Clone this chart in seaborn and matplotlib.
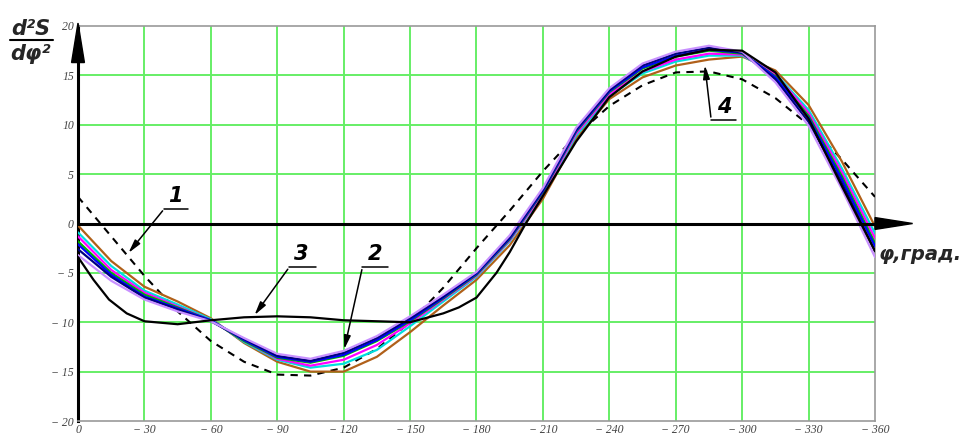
import numpy as np
import pandas as pd
import matplotlib
matplotlib.use('Agg')
import matplotlib.pyplot as plt
from matplotlib.patches import Polygon
from matplotlib.lines import Line2D
import seaborn as sns

# углы, град.
phi = [0, 15, 30, 45, 60, 75, 90, 105, 120, 135, 150, 165, 180,
       195, 210, 225, 240, 255, 270, 285, 300, 315, 330, 345, 360]

# 1 - теоретическая кривая (штриховая)
curve1 = [2.7, -1.3, -5.3, -8.9, -11.9, -14.0, -15.3, -15.4, -14.6, -12.7, -10.0, -6.5, -2.5,
          1.3, 5.3, 8.9, 11.9, 14.0, 15.3, 15.4, 14.6, 12.7, 10.0, 6.5, 2.7]

# 2 - пучок экспериментальных кривых
brown = [-0.2, -3.8, -6.4, -7.9, -9.6, -12.1, -14.0, -15.0, -15.0, -13.5, -11.0, -8.3, -5.7,
         -2.2, 2.5, 8.6, 12.6, 14.8, 16.0, 16.6, 16.9, 15.5, 12.0, 6.3, -0.3]
cyan = [-0.9, -4.3, -6.8, -8.2, -9.7, -12.0, -13.8, -14.6, -14.2, -12.8, -10.4, -7.9, -5.4,
        -1.8, 2.9, 8.9, 12.9, 15.2, 16.4, 17.0, 17.0, 15.2, 11.5, 5.6, -1.0]
magenta = [-1.3, -4.7, -7.0, -8.4, -9.8, -11.9, -13.7, -14.4, -13.8, -12.3, -10.1, -7.7, -5.3,
           -1.7, 3.0, 9.1, 13.1, 15.4, 16.6, 17.2, 17.1, 15.1, 11.2, 5.2, -1.5]
green = [-1.8, -5.0, -7.2, -8.5, -9.8, -11.9, -13.6, -14.1, -13.4, -11.9, -9.9, -7.6, -5.2,
         -1.6, 3.2, 9.3, 13.3, 15.7, 16.9, 17.5, 17.2, 14.9, 10.9, 4.8, -2.0]
blue = [-2.1, -5.2, -7.4, -8.6, -9.8, -11.8, -13.5, -14.0, -13.3, -11.8, -9.8, -7.5, -5.1,
        -1.5, 3.3, 9.4, 13.4, 15.8, 17.0, 17.6, 17.3, 14.8, 10.7, 4.5, -2.3]
navy = [-2.6, -5.4, -7.5, -8.7, -9.9, -11.7, -13.4, -13.9, -13.1, -11.6, -9.6, -7.4, -5.0,
        -1.4, 3.4, 9.5, 13.5, 16.0, 17.2, 17.8, 17.3, 14.6, 10.3, 4.1, -2.8]
violet = [-3.2, -5.8, -7.7, -8.9, -9.9, -11.6, -13.2, -13.7, -12.9, -11.4, -9.4, -7.2, -4.9,
          -1.2, 3.6, 9.7, 13.7, 16.2, 17.4, 18.0, 17.4, 14.3, 9.9, 3.5, -3.4]

# 3 - кривая с отдельной сеткой углов
phi3 = [0, 7, 14, 22, 30, 45, 60, 75, 90, 105, 120, 135, 150, 165, 172, 180, 189,
        195, 202, 210, 225, 240, 255, 270, 285, 300, 315, 330, 345, 360]
curve3 = [-3.4, -5.7, -7.7, -9.1, -9.9, -10.2, -9.8, -9.5, -9.4, -9.5, -9.8, -9.9, -10.0, -9.1, -8.5,
          -7.5, -5.0, -2.9, -0.1, 2.8, 8.3, 12.8, 15.4, 16.9, 17.6, 17.5, 15.3, 10.6, 3.8, -2.8]

bundle = {'#b0601a': brown, '#00dede': cyan, '#ff00ff': magenta, '#00b000': green,
          '#0000ff': blue, '#000080': navy, '#c890ff': violet}

xticks = list(range(0, 361, 30))
xlabels = ['0'] + ['\u2212 %d' % v for v in xticks[1:]]
yticks = list(range(-20, 21, 5))
ylabels = [('\u2212 %d' % -v) if v < 0 else str(v) for v in yticks]

sns.set_style('white')

fig = plt.figure(figsize=(9.62, 4.37), dpi=100)
ax = fig.add_axes([78 / 962, 16 / 437, 797 / 962, 395 / 437])

# сетка
for x in xticks[1:-1]:
    ax.axvline(x, color='#66ee66', lw=1.4, zorder=0)
for y in yticks[1:-1]:
    ax.axhline(y, color='#66ee66', lw=1.4, zorder=0)

sns.lineplot(x=phi, y=curve1, ax=ax, color='black', lw=1.5, linestyle=(0, (3.5, 3)), zorder=3)
for c, vals in bundle.items():
    sns.lineplot(x=phi, y=vals, ax=ax, color=c, lw=1.6, zorder=4)
sns.lineplot(x=phi3, y=curve3, ax=ax, color='black', lw=1.6, zorder=5)

ax.set_xlim(0, 360)
ax.set_ylim(-20, 20)
ax.set_xticks(xticks)
ax.set_xticklabels(xlabels, fontfamily='Liberation Serif', fontstyle='italic', fontsize=8.5, color='#444444')
ax.set_yticks(yticks)
ax.set_yticklabels(ylabels, fontfamily='Liberation Serif', fontstyle='italic', fontsize=8.5, color='#444444')
ax.tick_params(length=0, pad=3)
ax.tick_params(axis='x', pad=2)

for s in ['top', 'right', 'bottom']:
    ax.spines[s].set_color('#999999')
    ax.spines[s].set_linewidth(1.2)
ax.spines['left'].set_color('black')
ax.spines['left'].set_linewidth(2.2)

# ось абсцисс и стрелки
ax.plot([0, 362], [0, 0], color='black', lw=2.2, zorder=6, clip_on=False)
ax.add_patch(Polygon([[360, 0.6], [360, -0.6], [377, 0]], closed=True, color='black',
                     clip_on=False, zorder=7))
ax.add_patch(Polygon([[-2.9, 16.3], [2.9, 16.3], [0, 20.3]], closed=True, color='black',
                     clip_on=False, zorder=7))

lab = dict(fontsize=15, fontweight='bold', fontstyle='italic', color='black')
ax.text(1.005, 0.445, '\u03c6,\u0433\u0440\u0430\u0434.', transform=ax.transAxes,
        fontsize=14, fontweight='bold', fontstyle='italic', va='top', ha='left')

# выноски
def leader(tip, knee, end, text, tx, ty):
    ax.annotate('', xy=tip, xytext=knee,
                arrowprops=dict(arrowstyle='-|>,head_length=0.8,head_width=0.2', color='black', lw=1.1),
                zorder=8)
    ax.plot([knee[0], end[0]], [knee[1], end[1]], color='black', lw=1.1, zorder=8)
    ax.text(tx, ty, text, ha='center', va='bottom', zorder=8, **lab)

leader((22, -3.2), (39, 1.5), (49.5, 1.5), '1', 44, 1.8)
leader((79, -9.5), (95.5, -4.4), (107.5, -4.4), '3', 101, -4.1)
leader((120, -13.0), (128.5, -4.4), (140, -4.4), '2', 134, -4.1)
ax.annotate('', xy=(283, 16.3), xytext=(286, 10.5),
            arrowprops=dict(arrowstyle='-|>,head_length=0.8,head_width=0.2', color='black', lw=1.1),
            zorder=8)
ax.plot([286, 297], [10.5, 10.5], color='black', lw=1.1, zorder=8)
ax.text(292, 10.8, '4', ha='center', va='bottom', zorder=8, **lab)

# обозначение оси ординат
fig.text(31 / 962, 1 - 29 / 437, 'd\u00b2S', ha='center', va='center', fontsize=15,
         fontweight='bold', fontstyle='italic')
fig.text(31 / 962, 1 - 54 / 437, 'd\u03c6\u00b2', ha='center', va='center', fontsize=15,
         fontweight='bold', fontstyle='italic')
fig.add_artist(Line2D([10 / 962, 53 / 962], [1 - 40 / 437, 1 - 40 / 437], color='black', lw=1.5))

fig.savefig('out.png', dpi=100)
